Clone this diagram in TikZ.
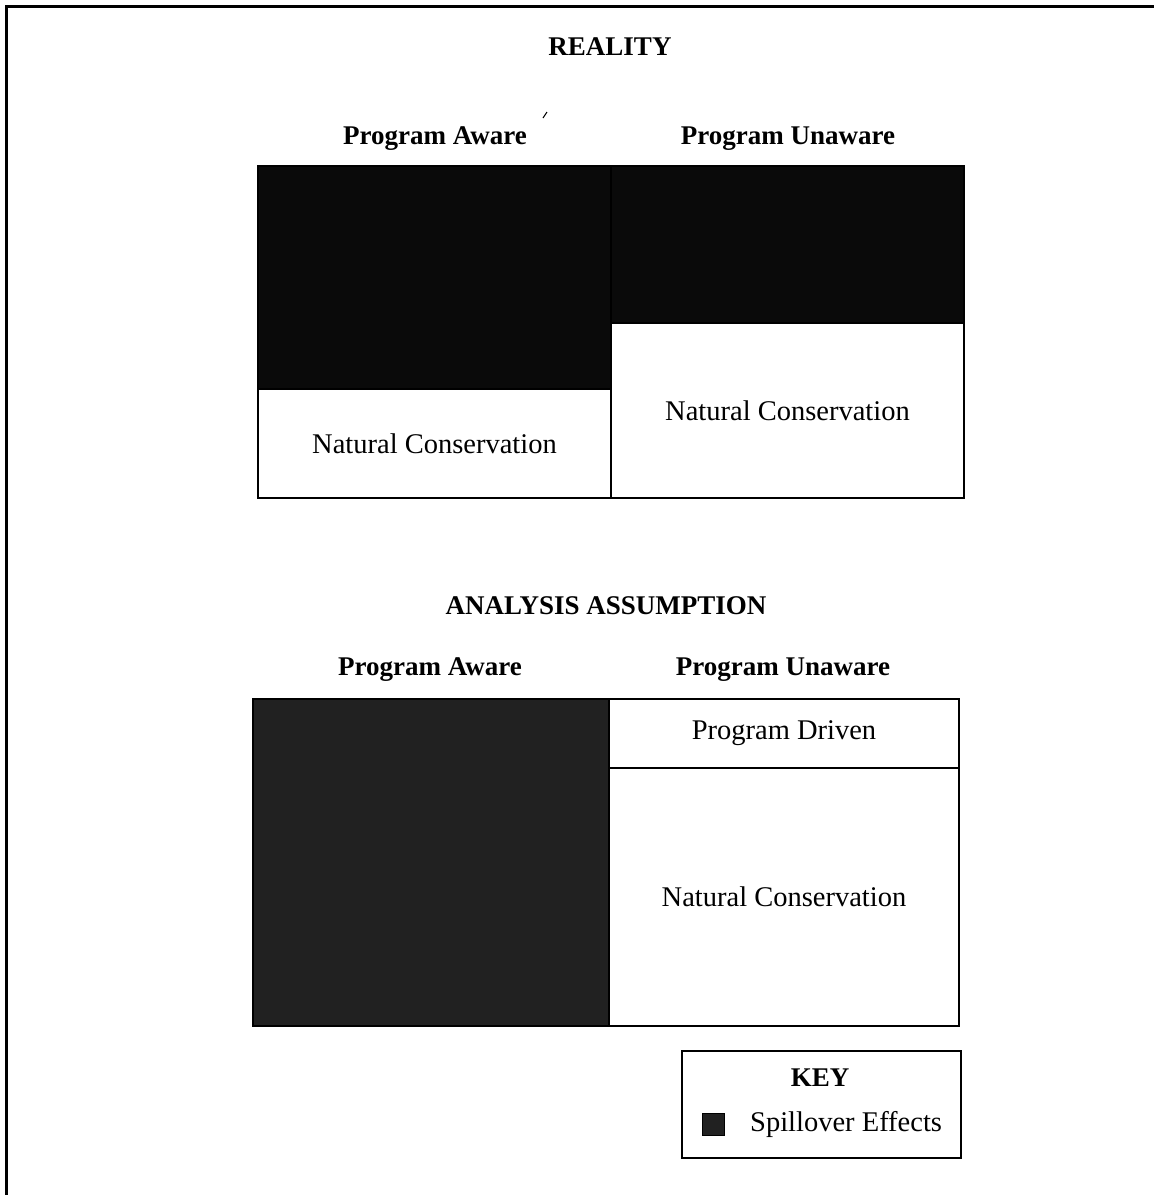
\documentclass[tikz,border=0pt]{standalone}
\usepackage{fontspec}
\setmainfont{Liberation Serif}
\begin{document}
\begin{tikzpicture}[x=1pt,y=-1pt,
  lbl/.style={font=\fontsize{28.5}{32}\selectfont, inner sep=0pt},
  hdr/.style={font=\fontsize{27}{32}\selectfont\bfseries, inner sep=0pt},
  cell/.style={draw=black, line width=2pt, anchor=north west, inner sep=0pt, font=\fontsize{28.5}{32}\selectfont},
  darkcell/.style={cell, fill=black!96},
  spill/.style={cell, fill=black!87},
  frame/.style={line width=3pt}]
\useasboundingbox (0,0) rectangle (1154,1195);
\fill[white] (0,0) rectangle (1154,1195);
% frame
\coordinate (fTL) at (6,6);
\coordinate (fTR) at (1154,6);
\coordinate (fBL) at (6,1195);
\draw[frame] (fTR) -- (fTL) -- (fBL);
% titles
\node[hdr] (reality) at (610,47) {REALITY};
\coordinate (t1) at (543,118);
\coordinate (t2) at (547,112);
\draw[line width=1pt] (t1) -- (t2);
\node[hdr] (ra) at (435,139) {Program Aware};
\node[hdr] (ru) at (788,139) {Program Unaware};
% reality boxes
\node[darkcell, minimum width=353pt, minimum height=223pt] (rlb) at (257,165) {};
\node[cell, minimum width=353pt, minimum height=109pt] (rlw) at (257,388) {Natural Conservation};
\node[darkcell, minimum width=353pt, minimum height=157pt] (rrb) at (610,165) {};
\node[cell, minimum width=353pt, minimum height=175pt] (rrw) at (610,322) {Natural Conservation};
% analysis
\node[hdr] (analysis) at (606,606) {ANALYSIS ASSUMPTION};
\node[hdr] (aa) at (430,670) {Program Aware};
\node[hdr] (au) at (783,670) {Program Unaware};
\node[spill, minimum width=356pt, minimum height=327pt] (alb) at (252,698) {};
\node[cell, minimum width=350pt, minimum height=69pt] (apd) at (608,698) {Program Driven};
\node[cell, minimum width=350pt, minimum height=258pt] (anc) at (608,767) {Natural Conservation};
% key
\node[cell, minimum width=279pt, minimum height=107pt] (key) at (681,1050) {};
\node[hdr] (keyt) at (820,1078) {KEY};
\node[spill, line width=0.8pt, minimum width=22pt, minimum height=22pt] (ksq) at (702,1113) {};
\node[lbl, anchor=west] (ktxt) at (750,1124) {Spillover Effects};
\end{tikzpicture}
\end{document}
